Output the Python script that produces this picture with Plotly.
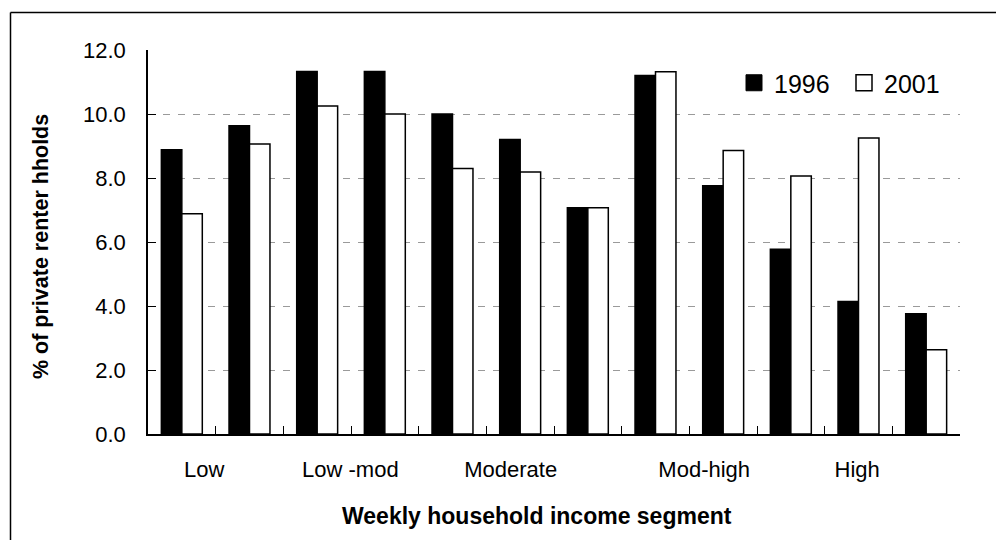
import plotly.graph_objects as go

# Share of private renter households by weekly income segment (12 income bands)
band_index = list(range(12))
share_1996 = [8.88, 9.63, 11.33, 11.33, 10.0, 9.2, 7.07, 11.2, 7.76, 5.77, 4.14, 3.76]
share_2001 = [6.88, 9.06, 10.25, 10.0, 8.3, 8.19, 7.07, 11.32, 8.86, 8.06, 9.25, 2.63]

segment_labels = ["Low", "Low -mod", "Moderate", "Mod-high", "High"]
segment_label_pos = [0.33, 2.49, 4.86, 7.72, 9.98]

y_ticks = [0, 2, 4, 6, 8, 10, 12]

FONT = "Arial, 'Liberation Sans', sans-serif"

# plot-area geometry in pixels
W, H = 996, 540
ML, MR, MT, MB = 148, 36, 50, 106
PW, PH = W - ML - MR, H - MT - MB


def px_to_paper_x(px):
    return (px - ML) / PW


def px_to_paper_y(py):
    return (H - MB - py) / PH


fig = go.Figure()

fig.add_trace(go.Bar(
    x=band_index, y=share_1996, name="1996",
    marker=dict(color="black", line=dict(color="black", width=1.5)),
    showlegend=False,
))
fig.add_trace(go.Bar(
    x=band_index, y=share_2001, name="2001",
    marker=dict(color="white", line=dict(color="black", width=1.5)),
    showlegend=False,
))

# legend entries with larger square swatches, one legend box each;
# they live on the label axis so that axis is always drawn
fig.add_trace(go.Scatter(
    x=[None], y=[None], mode="markers", name="1996", legend="legend", xaxis="x2",
    marker=dict(symbol="square", size=16, color="black",
                line=dict(color="black", width=1)),
))
fig.add_trace(go.Scatter(
    x=[None], y=[None], mode="markers", name="2001", legend="legend2", xaxis="x2",
    marker=dict(symbol="square", size=16, color="white",
                line=dict(color="black", width=1.5)),
))

n = len(band_index)
boundaries = [i - 0.5 for i in range(n + 1)]
x_range = [-0.5, n - 0.5]

legend_style = dict(
    xanchor="left", yanchor="middle", orientation="h",
    font=dict(family=FONT, size=25, color="black"),
    bgcolor="rgba(0,0,0,0)", borderwidth=0,
)

fig.update_layout(
    width=W, height=H,
    margin=dict(l=ML, r=MR, t=MT, b=MB, pad=0),
    paper_bgcolor="white", plot_bgcolor="white",
    font=dict(family=FONT, color="black", size=22),
    barmode="group", bargap=0.395, bargroupgap=0,
    legend=dict(x=px_to_paper_x(734), y=px_to_paper_y(83), **legend_style),
    legend2=dict(x=px_to_paper_x(844), y=px_to_paper_y(83), **legend_style),
    # band boundaries: inward tick marks, no labels
    xaxis=dict(
        range=x_range,
        tickmode="array", tickvals=boundaries,
        ticks="inside", ticklen=8, tickcolor="black", tickwidth=1.2,
        showticklabels=False,
        showline=True, linecolor="black", linewidth=1.5,
        showgrid=False, zeroline=False, fixedrange=True,
    ),
    # segment names under the bands
    xaxis2=dict(
        range=x_range, overlaying="x", anchor="y", side="bottom",
        tickmode="array", tickvals=segment_label_pos, ticktext=segment_labels,
        ticks="", ticklabelstandoff=20,
        tickfont=dict(family=FONT, size=22, color="black"),
        showline=False, showgrid=False, zeroline=False, fixedrange=True,
    ),
    yaxis=dict(
        range=[0, 12], tickmode="array", tickvals=y_ticks, tickformat=".1f",
        ticks="inside", ticklen=8, tickcolor="black", tickwidth=1.2,
        ticklabelstandoff=16,
        tickfont=dict(family=FONT, size=22, color="black"),
        showline=True, linecolor="black", linewidth=1.5,
        showgrid=True, gridcolor="#9a9a9a", gridwidth=1, griddash="7px,8px",
        zeroline=False, fixedrange=True,
    ),
    annotations=[
        dict(text="<b>% of private renter hholds</b>", textangle=-90,
             x=px_to_paper_x(41), y=px_to_paper_y(247), xref="paper", yref="paper",
             xanchor="center", yanchor="middle", showarrow=False,
             font=dict(family=FONT, size=21.5, color="black")),
        dict(text="<b>Weekly household income segment</b>",
             x=px_to_paper_x(537), y=px_to_paper_y(516), xref="paper", yref="paper",
             xanchor="center", yanchor="middle", showarrow=False,
             font=dict(family=FONT, size=23, color="black")),
    ],
    shapes=[
        dict(type="line", xref="paper", yref="paper",
             x0=px_to_paper_x(10.5), x1=px_to_paper_x(1005),
             y0=px_to_paper_y(12.5), y1=px_to_paper_y(12.5),
             line=dict(color="black", width=1.5)),
        dict(type="line", xref="paper", yref="paper",
             x0=px_to_paper_x(10.5), x1=px_to_paper_x(10.5),
             y0=px_to_paper_y(12.5), y1=px_to_paper_y(550),
             line=dict(color="black", width=1.5)),
    ],
)

fig.write_html("out.html")
